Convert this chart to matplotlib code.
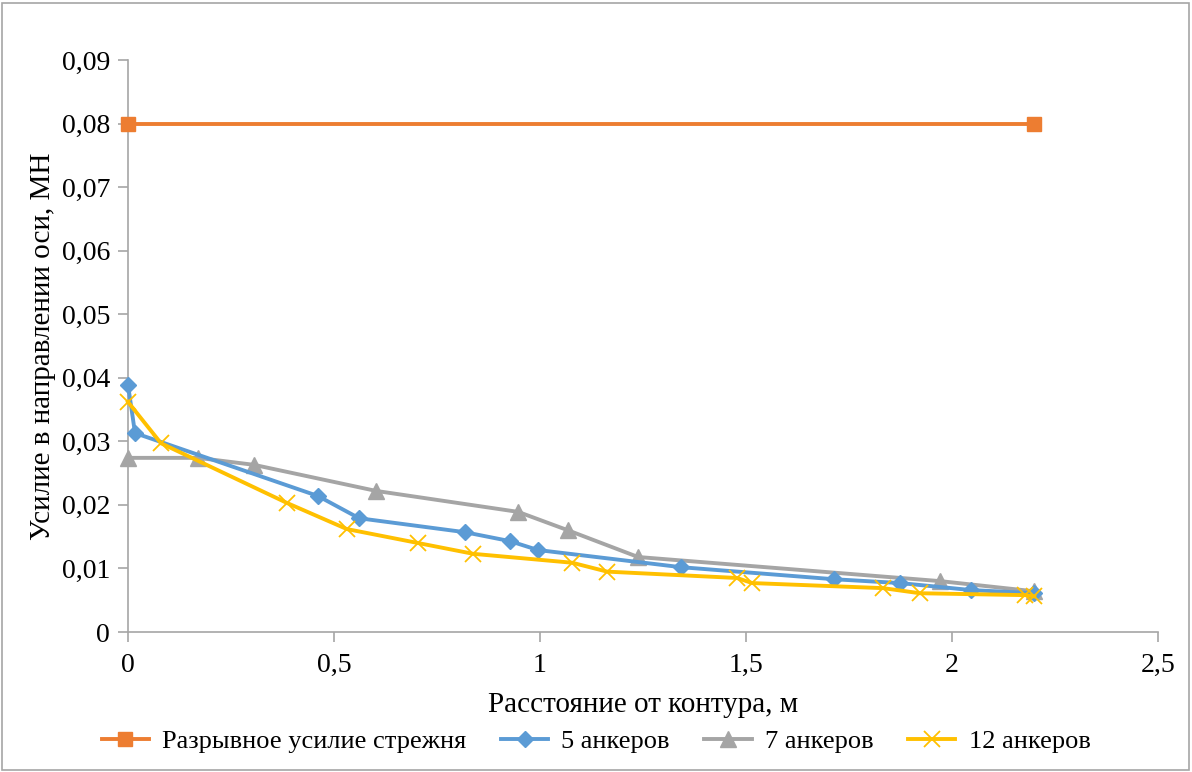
import matplotlib
matplotlib.use("Agg")
import matplotlib.pyplot as plt
from matplotlib.ticker import FuncFormatter
from matplotlib.patches import Rectangle

plt.rcParams['font.family'] = ['Liberation Serif', 'DejaVu Serif']

# data
x_limit = [0.0, 2.2]
y_limit = [0.08, 0.08]

x_5 = [0.0, 0.017, 0.461, 0.561, 0.818, 0.927, 0.995, 1.342, 1.714, 1.874, 2.046, 2.2]
y_5 = [0.0389, 0.0313, 0.0214, 0.0179, 0.0157, 0.0143, 0.0129, 0.0102, 0.0083, 0.0077, 0.0066, 0.0061]

x_7 = [0.0, 0.17, 0.306, 0.602, 0.947, 1.068, 1.238, 1.972, 2.2]
y_7 = [0.0274, 0.0274, 0.0263, 0.0222, 0.0189, 0.0160, 0.0118, 0.0080, 0.0064]

x_12 = [0.0, 0.080, 0.386, 0.531, 0.704, 0.838, 1.078, 1.163, 1.478, 1.515, 1.833, 1.922, 2.178, 2.2]
y_12 = [0.0362, 0.0297, 0.0203, 0.0162, 0.0140, 0.0123, 0.0109, 0.0095, 0.0085, 0.0077, 0.0069, 0.0061, 0.0058, 0.0056]

labels = ['Разрывное усилие стрежня', '5 анкеров', '7 анкеров', '12 анкеров']
colors = ['#ED7D31', '#5B9BD5', '#A5A5A5', '#FFC000']

fig = plt.figure(figsize=(11.92, 7.72), dpi=100)
ax = fig.add_axes([128/1192, 1 - 632/772, (1158-128)/1192, (632-60)/772])

ax.plot(x_limit, y_limit, color=colors[0], lw=2.8, marker='s', ms=9.5, label=labels[0], clip_on=False, zorder=3)
ax.plot(x_5, y_5, color=colors[1], lw=2.8, marker='D', ms=8, label=labels[1], clip_on=False, zorder=4)
ax.plot(x_7, y_7, color=colors[2], lw=2.8, marker='^', ms=11, label=labels[2], clip_on=False, zorder=3)
ax.plot(x_12, y_12, color=colors[3], lw=2.8, marker='x', ms=11, mew=1.3, label=labels[3], clip_on=False, zorder=5)

ax.set_xlim(0, 2.5)
ax.set_ylim(0, 0.09)
ax.set_xticks([0, 0.5, 1, 1.5, 2, 2.5])
ax.set_yticks([0, 0.01, 0.02, 0.03, 0.04, 0.05, 0.06, 0.07, 0.08, 0.09])

def comma_fmt(v, pos):
    if abs(v) < 1e-12:
        return '0'
    s = ('%.2f' % v).rstrip('0').rstrip('.')
    return s.replace('.', ',')

ax.xaxis.set_major_formatter(FuncFormatter(comma_fmt))
ax.yaxis.set_major_formatter(FuncFormatter(comma_fmt))

for side in ['top', 'right']:
    ax.spines[side].set_visible(False)
for side in ['left', 'bottom']:
    ax.spines[side].set_color('#A6A6A6')
    ax.spines[side].set_linewidth(1.2)
ax.tick_params(axis='both', colors='#A6A6A6', length=7, width=1.2, labelsize=20, labelcolor='black')
ax.tick_params(axis='x', pad=8)
ax.tick_params(axis='y', pad=6)

ax.set_xlabel('Расстояние от контура, м', fontsize=21, labelpad=10)
ax.set_ylabel('Усилие в направлении оси, МН', fontsize=21, labelpad=4)

fig.legend(loc='center', bbox_to_anchor=(0.5, 1 - 741/772), ncol=4, frameon=False,
           fontsize=19, handlelength=1.8, columnspacing=1.3, handletextpad=0.5)

fig.patches.append(Rectangle((2/1192, 2/772), 1 - 5/1192, 1 - 5/772, transform=fig.transFigure,
                             fill=False, edgecolor='#A6A6A6', lw=1.2))

fig.savefig('out.png', dpi=100)
